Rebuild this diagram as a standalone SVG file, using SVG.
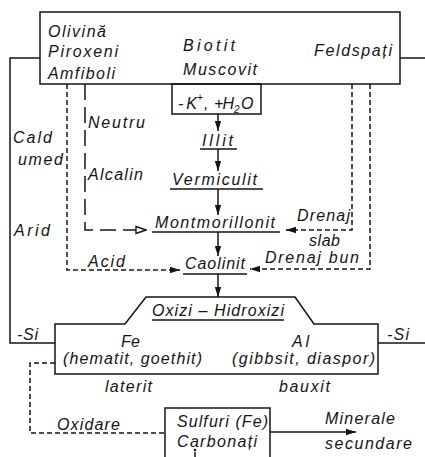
<svg xmlns="http://www.w3.org/2000/svg" width="425" height="457" viewBox="0 0 425 457">
<defs>
<marker id="ah" viewBox="0 0 10 8" refX="10" refY="4" markerWidth="10" markerHeight="8" markerUnits="userSpaceOnUse" orient="auto">
<path d="M0,0.8 L10,4 L0,7.2 Z" fill="#141414"/>
</marker>
<marker id="ao" viewBox="0 0 12 10" refX="11" refY="5" markerWidth="12" markerHeight="10" markerUnits="userSpaceOnUse" orient="auto">
<path d="M1,1.5 L11,5 L1,8.5 Z" fill="#fff" stroke="#141414" stroke-width="1.4"/>
</marker>
<style>
text{font-family:"Liberation Sans",Arial,sans-serif;font-style:italic;font-size:16px;fill:#141414}
.ln{fill:none;stroke:#141414;stroke-width:1.5}
.ds{fill:none;stroke:#141414;stroke-width:1.5;stroke-dasharray:5 3}
.lg{fill:none;stroke:#141414;stroke-width:1.5;stroke-dasharray:16 7}
.ul{stroke:#141414;stroke-width:1.6}
.sm{font-size:10px}
</style>
</defs>

<g id="minerale-primare">
<rect x="40" y="12" width="360" height="72" class="ln"/>
<text x="48" y="37" textLength="58" lengthAdjust="spacing">Olivină</text>
<text x="48" y="57" textLength="70" lengthAdjust="spacing">Piroxeni</text>
<text x="48" y="79" textLength="67" lengthAdjust="spacing">Amfiboli</text>
<text x="183" y="51" textLength="52" lengthAdjust="spacing">Biotit</text>
<text x="183" y="75" textLength="74" lengthAdjust="spacing">Muscovit</text>
<text x="314" y="56" textLength="78" lengthAdjust="spacing">Feldspați</text>
</g>

<g id="k-h2o">
<rect x="172" y="84" width="89" height="30" class="ln"/>
<text x="178" y="109" textLength="19" lengthAdjust="spacing">-K</text>
<text x="197" y="101" class="sm">+</text>
<text x="204" y="109">,</text>
<text x="214" y="109" textLength="20" lengthAdjust="spacing">+H</text>
<text x="234" y="113" class="sm">2</text>
<text x="241" y="109">O</text>
</g>

<g id="illit">
<text x="202" y="146" textLength="31" lengthAdjust="spacing">Illit</text>
<line x1="200" y1="149" x2="237" y2="149" class="ul"/>
</g>
<g id="vermiculit">
<text x="172" y="185" textLength="85" lengthAdjust="spacing">Vermiculit</text>
<line x1="170" y1="189" x2="263" y2="189" class="ul"/>
</g>
<g id="montmorillonit">
<text x="155" y="228" textLength="120" lengthAdjust="spacing">Montmorillonit</text>
<line x1="152" y1="232" x2="280" y2="232" class="ul"/>
</g>
<g id="caolinit">
<text x="185" y="269" textLength="60" lengthAdjust="spacing">Caolinit</text>
<line x1="183" y1="274" x2="247" y2="274" class="ul"/>
</g>

<g id="oxizi-hidroxizi">
<path d="M55,324 H125 L146,297 H295 L314,324 H378 V374 H55 Z" class="ln"/>
<text x="152" y="316" textLength="132" lengthAdjust="spacing">Oxizi – Hidroxizi</text>
<line x1="152" y1="320" x2="284" y2="320" class="ul"/>
<text x="121" y="347" textLength="19" lengthAdjust="spacing">Fe</text>
<text x="63" y="364" textLength="139" lengthAdjust="spacing">(hematit, goethit)</text>
<text x="292" y="347" textLength="17" lengthAdjust="spacing">Al</text>
<text x="232" y="364" textLength="143" lengthAdjust="spacing">(gibbsit, diaspor)</text>
</g>

<g id="sulfuri-carbonati">
<path d="M165,460 V408 H270 V460" class="ln"/>
<text x="177" y="427" textLength="91" lengthAdjust="spacing">Sulfuri (Fe)</text>
<text x="177" y="447" textLength="80" lengthAdjust="spacing">Carbonați</text>
<circle cx="195" cy="450" r="1.3" fill="#141414"/>
<line x1="195" y1="452" x2="195" y2="457" class="ln"/>
</g>

<g id="connectors">
<polyline points="40,58 10,58 10,343 55,343" class="ln"/>
<line x1="400" y1="58" x2="425" y2="58" class="ln"/>
<line x1="378" y1="343" x2="425" y2="343" class="ln"/>
<line x1="218" y1="114" x2="218" y2="131" class="ln" marker-end="url(#ah)"/>
<line x1="218" y1="149" x2="218" y2="171" class="ln" marker-end="url(#ah)"/>
<line x1="218" y1="189" x2="218" y2="215" class="ln" marker-end="url(#ah)"/>
<line x1="218" y1="232" x2="218" y2="256" class="ln" marker-end="url(#ah)"/>
<line x1="218" y1="274" x2="218" y2="297" class="ln" marker-end="url(#ah)"/>
<polyline points="67,84 67,270 180,270" class="ds" marker-end="url(#ah)"/>
<polyline points="85,84 85,230 146,230" class="lg" marker-end="url(#ao)"/>
<polyline points="352,84 352,230 286,230" class="ds" marker-end="url(#ah)"/>
<polyline points="370,84 370,269 250,269" class="ds" marker-end="url(#ah)"/>
<polyline points="55,363 30,363 30,433 165,433" class="ds"/>
<line x1="270" y1="432" x2="356" y2="432" class="ln" marker-end="url(#ah)"/>
<text x="88" y="128" textLength="57" lengthAdjust="spacing">Neutru</text>
<text x="88" y="180" textLength="55" lengthAdjust="spacing">Alcalin</text>
<text x="13" y="143" textLength="39" lengthAdjust="spacing">Cald</text>
<text x="18" y="165" textLength="45" lengthAdjust="spacing">umed</text>
<text x="14" y="236" textLength="36" lengthAdjust="spacing">Arid</text>
<text x="88" y="267" textLength="37" lengthAdjust="spacing">Acid</text>
<text x="297" y="221" textLength="53" lengthAdjust="spacing">Drenaj</text>
<text x="309" y="246" textLength="31" lengthAdjust="spacing">slab</text>
<text x="265" y="263" textLength="94" lengthAdjust="spacing">Drenaj bun</text>
<text x="17" y="340" textLength="21" lengthAdjust="spacing">-Si</text>
<text x="387" y="340" textLength="22" lengthAdjust="spacing">-Si</text>
<text x="105" y="392" textLength="47" lengthAdjust="spacing">laterit</text>
<text x="279" y="392" textLength="51" lengthAdjust="spacing">bauxit</text>
<text x="57" y="430" textLength="63" lengthAdjust="spacing">Oxidare</text>
<text x="325" y="424" textLength="70" lengthAdjust="spacing">Minerale</text>
<text x="325" y="449" textLength="87" lengthAdjust="spacing">secundare</text>
</g>
</svg>
